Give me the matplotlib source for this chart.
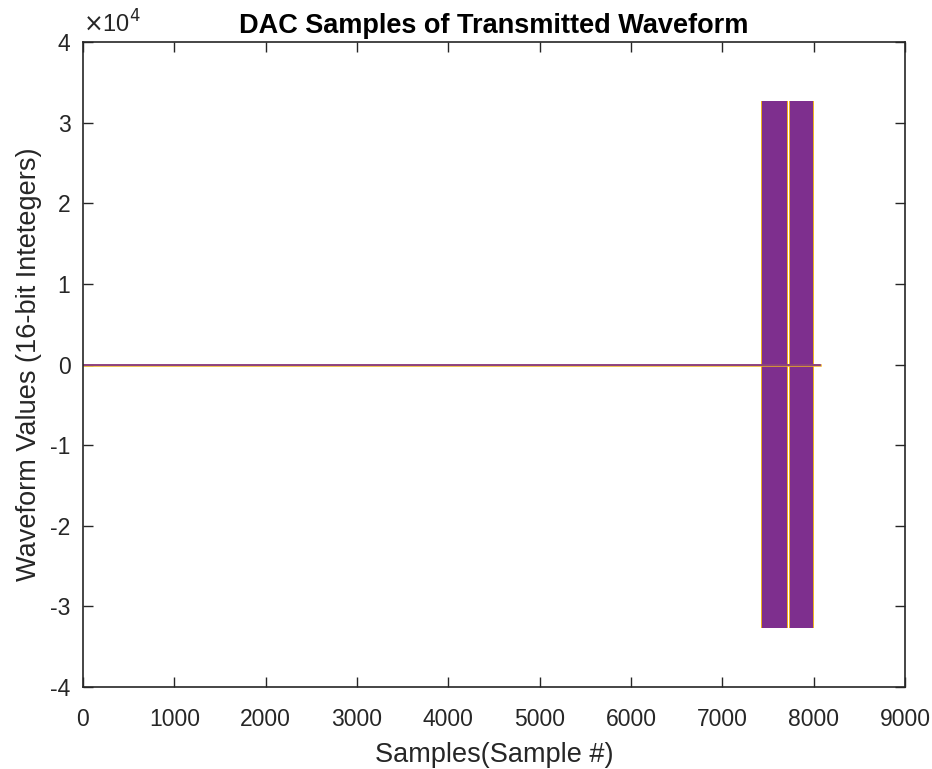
#!/usr/bin/env python3
import matplotlib
matplotlib.use('Agg')
import matplotlib.pyplot as plt

plt.rcParams.update({
    'font.family': ['Liberation Sans', 'DejaVu Sans'],
    'axes.edgecolor': '#262626',
    'xtick.color': '#262626',
    'ytick.color': '#262626',
    'xtick.direction': 'in',
    'ytick.direction': 'in',
})

# Waveform: zero line, then two bursts at full 16-bit scale
zero_start = 0
zero_end = 8070
amp_pos = 32700
amp_neg = -32700

# burst segments (sample start, sample end) for the two channels
orange_segments = [(7422, 7715), (7733, 8008)]
purple_segments = [(7432, 7703), (7742, 7998)]

xticks = [0, 1000, 2000, 3000, 4000, 5000, 6000, 7000, 8000, 9000]
yticks = [-40000, -30000, -20000, -10000, 0, 10000, 20000, 30000, 40000]
ytick_labels = ['-4', '-3', '-2', '-1', '0', '1', '2', '3', '4']

ORANGE = '#EDB120'
PURPLE = '#7E2F8E'

fig = plt.figure(figsize=(9.32, 7.69), dpi=100)
ax = fig.add_axes([0.089, 0.107, 0.882, 0.838])

ax.plot([zero_start, zero_end], [0, 0], color=ORANGE, linewidth=1.8)
ax.plot([zero_start, zero_end], [0, 0], color=PURPLE, linewidth=1.2)

for s, e in orange_segments:
    ax.fill_between([s, e], [amp_neg, amp_neg], [amp_pos, amp_pos],
                    color=ORANGE, linewidth=0)
for s, e in purple_segments:
    ax.fill_between([s, e], [amp_neg, amp_neg], [amp_pos, amp_pos],
                    color=PURPLE, linewidth=0)

ax.set_xlim(0, 9000)
ax.set_ylim(-40000, 40000)
ax.set_xticks(xticks)
ax.set_xticklabels([str(t) for t in xticks])
ax.set_yticks(yticks)
ax.set_yticklabels(ytick_labels)
ax.tick_params(labelsize=16.5, length=7, width=1.0, top=True, right=True)
ax.tick_params(axis='x', pad=15)
ax.tick_params(axis='y', pad=9)
for sp in ax.spines.values():
    sp.set_linewidth(1.2)

ax.text(0.0, 1.008, r'$\times$10$^4$', transform=ax.transAxes, fontsize=17,
        color='#262626', ha='left', va='bottom')

ax.set_title('DAC Samples of Transmitted Waveform', fontsize=19.5, fontweight='bold', pad=7)
ax.set_xlabel('Samples(Sample #)', fontsize=19.5, color='#262626', labelpad=8)
ax.set_ylabel('Waveform Values (16-bit Intetegers)', fontsize=19.5, color='#262626', labelpad=6)

fig.savefig('out.png', dpi=100)
